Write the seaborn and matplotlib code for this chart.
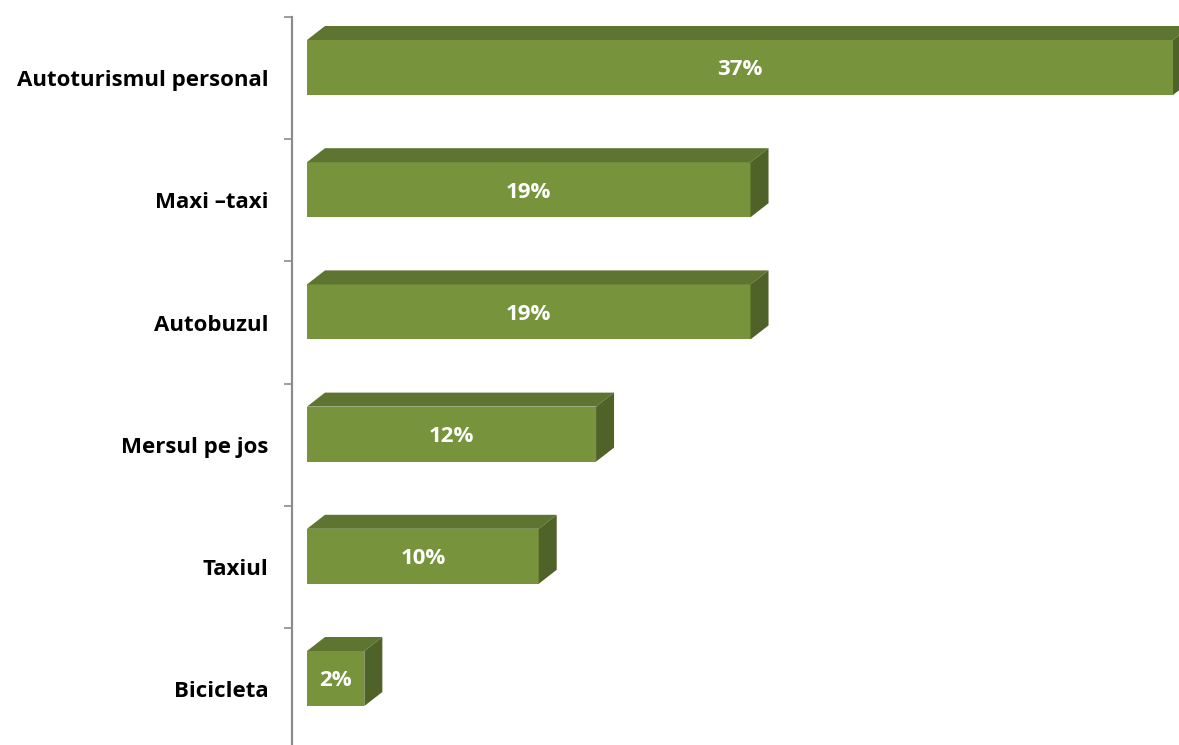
import numpy as np
import pandas as pd
import matplotlib
matplotlib.use("Agg")
import matplotlib.pyplot as plt
from matplotlib.patches import Polygon
import seaborn as sns

# ------------------------------------------------------------
# DATA
# ------------------------------------------------------------
categories = ["Autoturismul personal", "Maxi \u2013taxi", "Autobuzul",
              "Mersul pe jos", "Taxiul", "Bicicleta"]
values = [37.0, 18.95, 18.95, 12.35, 9.9, 2.45]
value_labels = ["37%", "19%", "19%", "12%", "10%", "2%"]

# ------------------------------------------------------------
# STYLE
# ------------------------------------------------------------
sns.set_theme(style="white")
plt.rcParams["font.family"] = ["Open Sans", "DejaVu Sans"]

front_col = "#77933C"
top_col = "#5E7531"
side_col = "#4F6228"

W, H = 1179, 745
fig = plt.figure(figsize=(W / 100, H / 100), dpi=100)

# pixel geometry of the plotting area
ax_left_px = 292
ax_top_px = 17
band_px = 122.2
px_per_unit = 866 / 37.0
bar_start_px = 307
ax = fig.add_axes([ax_left_px / W, 0, 1 - ax_left_px / W, 1 - ax_top_px / H])

df = pd.DataFrame({"cat": categories, "val": values})
sns.barplot(data=df, x="val", y="cat", orient="h", color=front_col,
            saturation=1, width=0.45, ax=ax, linewidth=0)

# axis limits so the bars sit where they do in the original
x_lo = -(bar_start_px - ax_left_px) / px_per_unit
x_hi = x_lo + (W - ax_left_px) / px_per_unit
ax.set_xlim(x_lo, x_hi)
front_center_px = 67.5
y_top = (ax_top_px - front_center_px) / band_px
y_bot = y_top + (H - ax_top_px) / band_px
ax.set_ylim(y_bot, y_top)

# ------------------------------------------------------------
# 3D look: top and side faces
# ------------------------------------------------------------
dx = 18 / px_per_unit
dy = 14 / band_px
for bar, lab in zip(ax.patches, value_labels):
    x0 = bar.get_x()
    x1 = x0 + bar.get_width()
    ya = bar.get_y()
    yb = ya + bar.get_height()
    y_upper, y_lower = min(ya, yb), max(ya, yb)
    top = Polygon([(x0, y_upper), (x0 + dx, y_upper - dy),
                   (x1 + dx, y_upper - dy), (x1, y_upper)],
                  closed=True, facecolor=top_col, edgecolor="none")
    side = Polygon([(x1, y_upper), (x1 + dx, y_upper - dy),
                    (x1 + dx, y_lower - dy), (x1, y_lower)],
                   closed=True, facecolor=side_col, edgecolor="none")
    ax.add_patch(top)
    ax.add_patch(side)
    ax.text((x0 + x1) / 2, (y_upper + y_lower) / 2 + 0.02, lab,
            ha="center", va="center", color="white",
            fontsize=16, fontweight="bold")

# ------------------------------------------------------------
# axes styling
# ------------------------------------------------------------
for s in ["top", "right", "bottom"]:
    ax.spines[s].set_visible(False)
ax.spines["left"].set_color("#8C8C8C")
ax.spines["left"].set_linewidth(1.6)

n = len(categories)
ax.set_yticks([y_top + i for i in range(n)])
ax.set_yticklabels([""] * n)
ax.tick_params(axis="y", which="major", direction="out", length=6,
               width=1.2, color="#8C8C8C", left=True)
centers = [y_top + i + 0.5 for i in range(n)]
ax.set_yticks(centers, minor=True)
ax.set_yticklabels(categories, minor=True, fontsize=16, fontweight="bold",
                   color="black")
ax.tick_params(axis="y", which="minor", length=0, pad=17)
ax.set_xticks([])
ax.set_xlabel("")
ax.set_ylabel("")

fig.savefig("out.png", dpi=100)
